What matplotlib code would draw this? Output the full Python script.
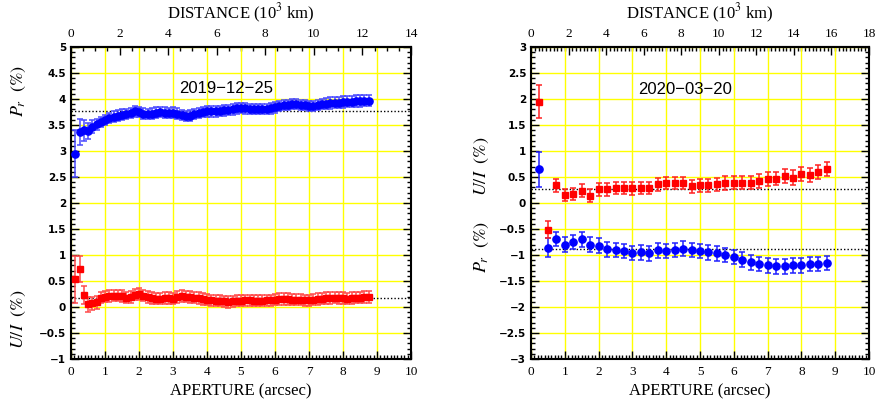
import numpy as np
import matplotlib
matplotlib.use('Agg')
import matplotlib.pyplot as plt
from matplotlib.ticker import MultipleLocator, FixedLocator, FuncFormatter

plt.rcParams['mathtext.fontset'] = 'stix'

# ── Data: 2019-12-25 (left) ────────────────────────────────────────────────────
ap_left = np.arange(1, 71) * 0.125
pr_left = [2.95, 3.36, 3.40, 3.38, 3.47, 3.51, 3.56, 3.60, 3.63, 3.66,
           3.68, 3.70, 3.71, 3.73, 3.76, 3.75, 3.72, 3.71, 3.72, 3.74,
           3.75, 3.74, 3.73, 3.74, 3.72, 3.69, 3.67, 3.68, 3.71, 3.73,
           3.75, 3.76, 3.76, 3.76, 3.77, 3.78, 3.79, 3.80, 3.82, 3.83,
           3.82, 3.81, 3.81, 3.81, 3.81, 3.81, 3.82, 3.84, 3.87, 3.89,
           3.89, 3.90, 3.90, 3.89, 3.88, 3.86, 3.86, 3.88, 3.90, 3.91,
           3.92, 3.93, 3.93, 3.94, 3.95, 3.95, 3.96, 3.96, 3.97, 3.97]
pr_left_err = [0.45, 0.25, 0.20, 0.15, 0.12] + [0.10] * 55 + [0.11] * 10
ui_left = [0.53, 0.73, 0.23, 0.05, 0.07, 0.09, 0.18, 0.20, 0.21, 0.22,
           0.22, 0.21, 0.18, 0.19, 0.24, 0.25, 0.22, 0.19, 0.17, 0.16,
           0.16, 0.17, 0.17, 0.16, 0.19, 0.21, 0.20, 0.19, 0.18, 0.17,
           0.15, 0.14, 0.13, 0.12, 0.12, 0.11, 0.10, 0.11, 0.12, 0.12,
           0.13, 0.13, 0.12, 0.12, 0.12, 0.13, 0.13, 0.14, 0.15, 0.15,
           0.15, 0.14, 0.14, 0.14, 0.13, 0.13, 0.14, 0.15, 0.16, 0.17,
           0.17, 0.18, 0.17, 0.17, 0.16, 0.17, 0.18, 0.18, 0.19, 0.19]
ui_left_err = [0.46, 0.25, 0.18, 0.14, 0.12, 0.12] + [0.11] * 64
pr_left_mean = 3.76
ui_left_mean = 0.17

# ── Data: 2020-03-20 (right) ───────────────────────────────────────────────────
ap_right = np.arange(1, 36) * 0.25
ui_right = [1.95, -0.51, 0.34, 0.15, 0.17, 0.24, 0.14, 0.26, 0.26, 0.29,
            0.29, 0.28, 0.29, 0.29, 0.36, 0.38, 0.38, 0.38, 0.32, 0.34,
            0.34, 0.36, 0.38, 0.39, 0.39, 0.39, 0.42, 0.46, 0.47, 0.52,
            0.49, 0.56, 0.54, 0.60, 0.65]
ui_right_err = [0.31, 0.16] + [0.12] * 18 + [0.13] * 10 + [0.14] * 5
pr_right = [0.65, -0.86, -0.69, -0.80, -0.75, -0.70, -0.80, -0.82, -0.89, -0.90,
            -0.92, -0.96, -0.95, -0.97, -0.91, -0.92, -0.90, -0.88, -0.90, -0.92,
            -0.95, -0.97, -1.00, -1.04, -1.09, -1.14, -1.17, -1.20, -1.22, -1.22,
            -1.20, -1.20, -1.17, -1.17, -1.15]
pr_right_err = [0.34, 0.18] + [0.14] * 33
ui_right_mean = 0.26
pr_right_mean = -0.88

W, H = 883, 408
fig = plt.figure(figsize=(W / 100, H / 100), dpi=100)

GRID = '#ffff00'
TICKFONT = matplotlib.font_manager.FontProperties(family='DejaVu Sans', weight='bold', size=7.5)
fmt_g = FuncFormatter(lambda v, p: ('%g' % round(v, 2)).replace('-', '\u2212'))


def setup_axes(ax, ylim, dist_max, dist_minor):
    ax.set_xlim(0, 10)
    ax.set_ylim(*ylim)
    ax.xaxis.set_major_locator(MultipleLocator(1))
    ax.xaxis.set_minor_locator(MultipleLocator(0.1))
    ax.yaxis.set_major_locator(MultipleLocator(0.5))
    ax.yaxis.set_minor_locator(MultipleLocator(0.1))
    ax.yaxis.set_major_formatter(fmt_g)
    ax.grid(True, which='major', color=GRID, lw=1.0, zorder=0)
    ax.set_axisbelow(True)
    ax.tick_params(which='both', direction='in', top=False, right=True, width=1.0)
    ax.tick_params(which='major', length=6)
    ax.tick_params(which='minor', length=3)
    ax.tick_params(axis='x', pad=5)
    for lab in ax.get_xticklabels():
        lab.set_fontfamily('Liberation Serif')
        lab.set_fontsize(9.5)
    for lab in ax.get_yticklabels():
        lab.set_fontproperties(TICKFONT)
    for sp in ax.spines.values():
        sp.set_linewidth(1.5)
    ax.set_xlabel('APERTURE (arcsec)', family='Liberation Serif', size=12, labelpad=4)

    f = dist_max / 10.0
    sec = ax.secondary_xaxis('top', functions=(lambda x: x * f, lambda x: x / f))
    sec.xaxis.set_major_locator(FixedLocator(np.arange(0, dist_max + 1, 2)))
    sec.xaxis.set_minor_locator(MultipleLocator(dist_minor))
    sec.tick_params(which='both', direction='in', width=1.0, pad=5)
    sec.tick_params(which='major', length=6)
    sec.tick_params(which='minor', length=3)
    for lab in sec.get_xticklabels():
        lab.set_fontfamily('Liberation Serif')
        lab.set_fontsize(9.5)
    sec.set_xlabel('DISTANCE (10$^{3}$ km)', family='Liberation Serif', size=12, labelpad=7)
    sec.spines['top'].set_linewidth(1.5)
    return sec


# ── Left panel ────────────────────────────────────────────────────────────────
axL = fig.add_axes([71 / W, 1 - 359 / H, 340 / W, 312 / H])
setup_axes(axL, (-1, 5), 14, 0.5)
axL.axhline(pr_left_mean, color='black', ls=(0, (1, 1.5)), lw=1, zorder=3)
axL.axhline(ui_left_mean, color='black', ls=(0, (1, 1.5)), lw=1, zorder=3)
axL.errorbar(ap_left, pr_left, yerr=pr_left_err, fmt='o', color='#0000ff', ms=5.2,
             ecolor='#4a4aff', elinewidth=1.1, capsize=2.4, capthick=1.1, zorder=4)
axL.errorbar(ap_left, ui_left, yerr=ui_left_err, fmt='s', color='#ff0000', ms=4.8,
             ecolor='#ff4a4a', elinewidth=1.1, capsize=2.4, capthick=1.1, zorder=4)
axL.text(4.55, 4.2, '2019\u221212\u221225', ha='center', va='center',
         family='Liberation Sans', size=12)

# ── Right panel ───────────────────────────────────────────────────────────────
axR = fig.add_axes([531 / W, 1 - 359 / H, 338 / W, 312 / H])
setup_axes(axR, (-3, 3), 18, 0.2)
axR.axhline(ui_right_mean, color='black', ls=(0, (1, 1.5)), lw=1, zorder=3)
axR.axhline(pr_right_mean, color='black', ls=(0, (1, 1.5)), lw=1, zorder=3)
axR.errorbar(ap_right, pr_right, yerr=pr_right_err, fmt='o', color='#0000ff', ms=5.2,
             ecolor='#2020ff', elinewidth=1.1, capsize=2.5, capthick=1.1, zorder=4)
axR.errorbar(ap_right, ui_right, yerr=ui_right_err, fmt='s', color='#ff0000', ms=4.8,
             ecolor='#ff2020', elinewidth=1.1, capsize=2.5, capthick=1.1, zorder=4)
axR.text(4.55, 2.18, '2020\u221203\u221220', ha='center', va='center',
         family='Liberation Sans', size=12)


# ── Y labels ──────────────────────────────────────────────────────────────────
def ylab(x, y, s):
    fig.text(x / W, 1 - y / H, s, rotation=90, ha='center', va='center', size=13)


ylab(19, 91, r'$P_r\ \ (\%)$')
ylab(19, 319, r'$U/I\ \ (\%)$')
ylab(482, 166, r'$U/I\ \ (\%)$')
ylab(482, 247, r'$P_r\ \ (\%)$')

fig.savefig('out.png', dpi=100)
